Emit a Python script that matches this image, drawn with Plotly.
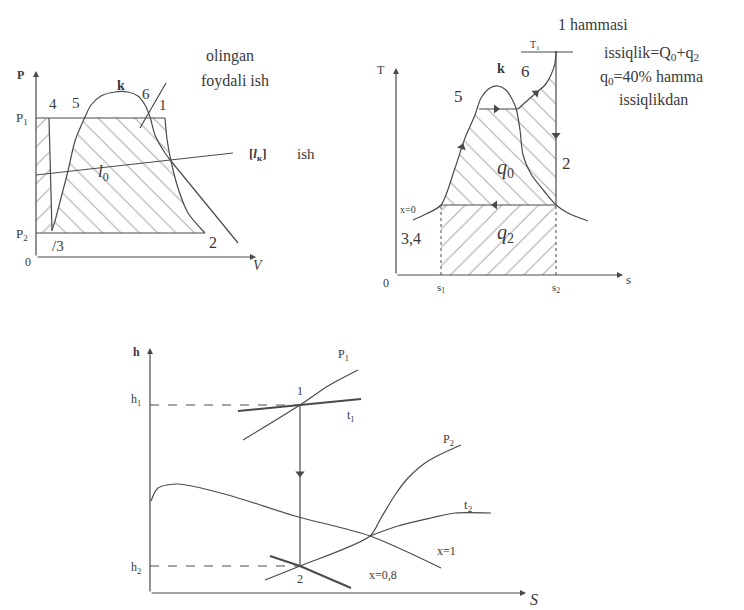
import plotly.graph_objects as go

# ── Palette ────────────────────────────────────────────────────────────────
INK = "#4a4a4a"
TEXT = "#3a3a3a"
SERIF = "Liberation Serif, DejaVu Serif, serif"

# ── P–V diagram (local units, origin at the axis corner) ───────────────────
PV_P1, PV_P2 = 139, 24
PV_ISOBAR1_V, PV_ISOBAR1_P = [0, 129], [PV_P1, PV_P1]
PV_ISOBAR2_V, PV_ISOBAR2_P = [0, 169], [PV_P2, PV_P2]
PV_PUMP_V, PV_PUMP_P = [13, 16], [139, 26]
PV_DOME_V = [16, 19, 25, 32, 39, 49, 55, 65, 79, 92, 102, 109, 114, 119, 129, 135]
PV_DOME_P = [27, 36, 59, 86, 116, 140, 152, 161, 165, 165, 161, 152, 140, 122, 104, 96]
PV_ADIABAT_V = [129, 131, 135, 142, 152, 169]
PV_ADIABAT_P = [139, 118, 96, 69, 44, 24]
PV_TAIL_V, PV_TAIL_P = [135, 202], [96, 14]
PV_POINTER_V, PV_POINTER_P = [130, 104], [174, 129]
PV_WORK_V, PV_WORK_P = [0, 197], [82, 104]

# ── T–s diagram ────────────────────────────────────────────────────────────
TS_S1, TS_S2, TS_T2 = 45, 160, 70
TS_DOME_S = [17, 30, 45, 59, 69, 79, 85, 94, 102, 110, 116, 120, 124, 127, 135, 148, 160, 172, 192]
TS_DOME_T = [55, 61, 70, 107, 137, 160, 177, 187, 189, 185, 176, 167, 145, 120, 101, 84, 70, 62, 54]
TS_LINE56_S, TS_LINE56_T = [83, 122], [166, 166]
TS_SUPERHEAT_S = [122, 132, 140, 149, 155, 159, 160]
TS_SUPERHEAT_T = [166, 175, 182, 190, 200, 212, 224]
TS_EXPAND_S, TS_EXPAND_T = [TS_S2, TS_S2], [224, TS_T2]
TS_COND_S, TS_COND_T = [TS_S1, TS_S2], [TS_T2, TS_T2]
TS_T1LINE_S, TS_T1LINE_T = [125, 177], [223, 223]
TS_ARROW_S = [66, 100, 140, 160, 99]
TS_ARROW_T = [128, 166, 182, 140, 70]
TS_ARROW_ANGLE = [18, 90, 49, 180, 270]

# ── h–s diagram ────────────────────────────────────────────────────────────
HS_S12, HS_H1, HS_H2 = 150, 188, 27
HS_X1_S = [1, 8, 28, 78, 145, 220, 291]
HS_X1_H = [92, 105, 109, 98, 77, 57, 25]
HS_P1_S, HS_P1_H = [93, 150, 178, 208], [153, 188, 207, 223]
HS_T1_S, HS_T1_H = [88, 150, 211], [182, 188, 194]
HS_P2_S = [115, 150, 220, 231, 245, 258, 278, 311]
HS_P2_H = [13, 27, 57, 75, 98, 115, 132, 148]
HS_T2_S, HS_T2_H = [220, 248, 281, 305, 341], [57, 67, 75, 80, 80]
HS_X08_S, HS_X08_H = [120, 150, 201], [37, 27, 5]

fig = go.Figure()


def line(xs, ys, sub, width=1.2, dash=None, spline=False):
    fig.add_trace(go.Scatter(
        x=xs, y=ys, xaxis=f"x{sub}", yaxis=f"y{sub}", mode="lines",
        line=dict(color=INK, width=width, dash=dash,
                  shape="spline" if spline else "linear", smoothing=0.8),
        hoverinfo="skip", showlegend=False,
    ))


def hatch(xs, ys, sub, shape):
    fig.add_trace(go.Scatter(
        x=xs, y=ys, xaxis=f"x{sub}", yaxis=f"y{sub}", mode="lines",
        fill="toself", fillcolor="rgba(0,0,0,0)", line=dict(width=0),
        fillpattern=dict(shape=shape, fgcolor="#5a5a5a", bgcolor="rgba(0,0,0,0)",
                         size=13, solidity=0.09),
        hoverinfo="skip", showlegend=False,
    ))


def label(x, y, text, sub, size=14):
    fig.add_annotation(x=x, y=y, xref=f"x{sub}", yref=f"y{sub}", text=text,
                       showarrow=False, font=dict(family=SERIF, size=size, color=TEXT))


def axis_arrow(x, y, sub):
    fig.add_annotation(x=x, y=y, ax=0, ay=0, xref=f"x{sub}", yref=f"y{sub}",
                       axref=f"x{sub}", ayref=f"y{sub}", text="", showarrow=True,
                       font=dict(family=SERIF, size=12, color=TEXT),
                       arrowhead=2, arrowsize=1, arrowwidth=1.2, arrowcolor=INK)


# P–V
hatch([0, 0] + PV_PUMP_V, [PV_P2, PV_P1] + PV_PUMP_P[:1] + [PV_P2], "", "/")
hatch(PV_DOME_V[:6] + PV_ADIABAT_V + [PV_DOME_V[0]],
      PV_DOME_P[:6] + PV_ADIABAT_P + [PV_P2], "", "\\")
line(PV_ISOBAR1_V, PV_ISOBAR1_P, "")
line(PV_ISOBAR2_V, PV_ISOBAR2_P, "")
line(PV_PUMP_V, PV_PUMP_P, "")
line(PV_DOME_V, PV_DOME_P, "", spline=True)
line(PV_ADIABAT_V, PV_ADIABAT_P, "", spline=True)
line(PV_TAIL_V, PV_TAIL_P, "")
line(PV_POINTER_V, PV_POINTER_P, "")
line(PV_WORK_V, PV_WORK_P, "", width=1)
axis_arrow(0, 186, "")
axis_arrow(220, 0, "")
for x, y, t, s in [(-16, 182, "<b>P</b>", 12), (-14, 139, "P<sub>1</sub>", 13),
                   (-14, 23, "P<sub>2</sub>", 13), (-8, -5, "0", 12), (222, -8, "<i>V</i>", 14),
                   (17, 153, "4", 15), (40, 154, "5", 15), (85, 172, "<b>k</b>", 14),
                   (110, 163, "6", 15), (127, 152, "1", 15), (22, 11, "/3", 15),
                   (177, 15, "2", 16), (67, 84, "<i>l</i><sub>0</sub>", 17),
                   (222, 103, "<b>[<i>l</i><sub>к</sub>]</b>", 13), (270, 103, "ish", 15),
                   (194, 201, "olingan", 16), (199, 176, "foydali ish", 16)]:
    label(x, y, t, "", s)

# T–s
hatch(TS_DOME_S[2:6] + TS_LINE56_S + TS_SUPERHEAT_S[1:] + [TS_S2],
      TS_DOME_T[2:6] + TS_LINE56_T + TS_SUPERHEAT_T[1:] + [TS_T2], 2, "\\")
hatch([TS_S1, TS_S1, TS_S2, TS_S2], [0, TS_T2, TS_T2, 0], 2, "/")
line(TS_DOME_S, TS_DOME_T, 2, spline=True)
line(TS_LINE56_S, TS_LINE56_T, 2)
line(TS_SUPERHEAT_S, TS_SUPERHEAT_T, 2, spline=True)
line(TS_EXPAND_S, TS_EXPAND_T, 2)
line(TS_COND_S, TS_COND_T, 2)
line(TS_T1LINE_S, TS_T1LINE_T, 2, width=1)
line([TS_S1, TS_S1], [0, TS_T2], 2, width=1, dash="dot")
line([TS_S2, TS_S2], [0, TS_T2], 2, width=1, dash="dot")
fig.add_trace(go.Scatter(
    x=TS_ARROW_S, y=TS_ARROW_T, xaxis="x2", yaxis="y2", mode="markers",
    marker=dict(symbol="triangle-up", size=8, color=INK, angle=TS_ARROW_ANGLE),
    hoverinfo="skip", showlegend=False,
))
axis_arrow(0, 207, 2)
axis_arrow(227, 0, 2)
for x, y, t, s in [(-15, 205, "T", 12), (-10, -8, "0", 12), (45, -13, "s<sub>1</sub>", 11),
                   (160, -13, "s<sub>2</sub>", 11), (232, -4, "s", 13), (12, 66, "x=0", 10),
                   (15, 37, "3,4", 16), (62, 179, "5", 17), (105, 207, "<b>k</b>", 14),
                   (129, 204, "6", 17), (170, 112, "2", 17), (139, 230, "T<sub>1</sub>", 10),
                   (109, 107, "<i>q</i><sub>0</sub>", 20), (109, 42, "<i>q</i><sub>2</sub>", 20),
                   (197, 251, "1 hammasi", 16),
                   (255, 222, "issiqlik=Q<sub>0</sub>+q<sub>2</sub>", 16),
                   (255, 198, "q<sub>0</sub>=40% hamma", 16), (257, 175, "issiqlikdan", 16)]:
    label(x, y, t, 2, s)

# h–s
line([0, HS_S12], [HS_H1, HS_H1], 3, width=1, dash="dash")
line([0, HS_S12], [HS_H2, HS_H2], 3, width=1, dash="dash")
line([HS_S12, HS_S12], [HS_H1, HS_H2], 3)
line(HS_X1_S, HS_X1_H, 3, spline=True)
line(HS_P1_S, HS_P1_H, 3, spline=True)
line(HS_T1_S, HS_T1_H, 3, width=2)
line(HS_P2_S, HS_P2_H, 3, spline=True)
line(HS_T2_S, HS_T2_H, 3, spline=True)
line(HS_X08_S, HS_X08_H, 3, width=2)
fig.add_trace(go.Scatter(
    x=[HS_S12], y=[(HS_H1 + HS_H2) / 2 + 12], xaxis="x3", yaxis="y3", mode="markers",
    marker=dict(symbol="triangle-down", size=8, color=INK),
    hoverinfo="skip", showlegend=False,
))
axis_arrow(0, 245, 3)
axis_arrow(376, 0, 3)
for x, y, t, s in [(-14, 241, "<b>h</b>", 12), (-14, 193, "h<sub>1</sub>", 12),
                   (-14, 25, "h<sub>2</sub>", 12), (384, -6, "<i>S</i>", 16),
                   (193, 238, "P<sub>1</sub>", 12), (150, 202, "1", 12),
                   (201, 177, "t<sub>1</sub>", 12), (298, 153, "P<sub>2</sub>", 12),
                   (318, 88, "t<sub>2</sub>", 13), (296, 42, "x=1", 12),
                   (150, 14, "2", 12), (233, 18, "x=0,8", 12)]:
    label(x, y, t, 3, s)

W, H = 744, 610


def ax(lo, hi):
    return dict(range=[lo, hi], showline=False, showgrid=False, zeroline=False,
                showticklabels=False, ticks="", fixedrange=True)


fig.update_layout(
    width=W, height=H,
    margin=dict(l=0, r=0, t=0, b=0),
    font=dict(family=SERIF, size=14, color=TEXT),
    paper_bgcolor="white", plot_bgcolor="rgba(0,0,0,0)",
    xaxis=dict(**ax(-28, 302), domain=[0, 330 / W], anchor="y"),
    yaxis=dict(**ax(-26, 229), domain=[1 - 275 / H, 1 - 20 / H], anchor="x"),
    xaxis2=dict(**ax(-28, 356), domain=[360 / W, 1], anchor="y2"),
    yaxis2=dict(**ax(-23, 267), domain=[1 - 290 / H, 1], anchor="x2"),
    xaxis3=dict(**ax(-32, 398), domain=[110 / W, 540 / W], anchor="y3"),
    yaxis3=dict(**ax(-25, 265), domain=[0, 1 - 320 / H], anchor="x3"),
)

fig.write_html("out.html")
